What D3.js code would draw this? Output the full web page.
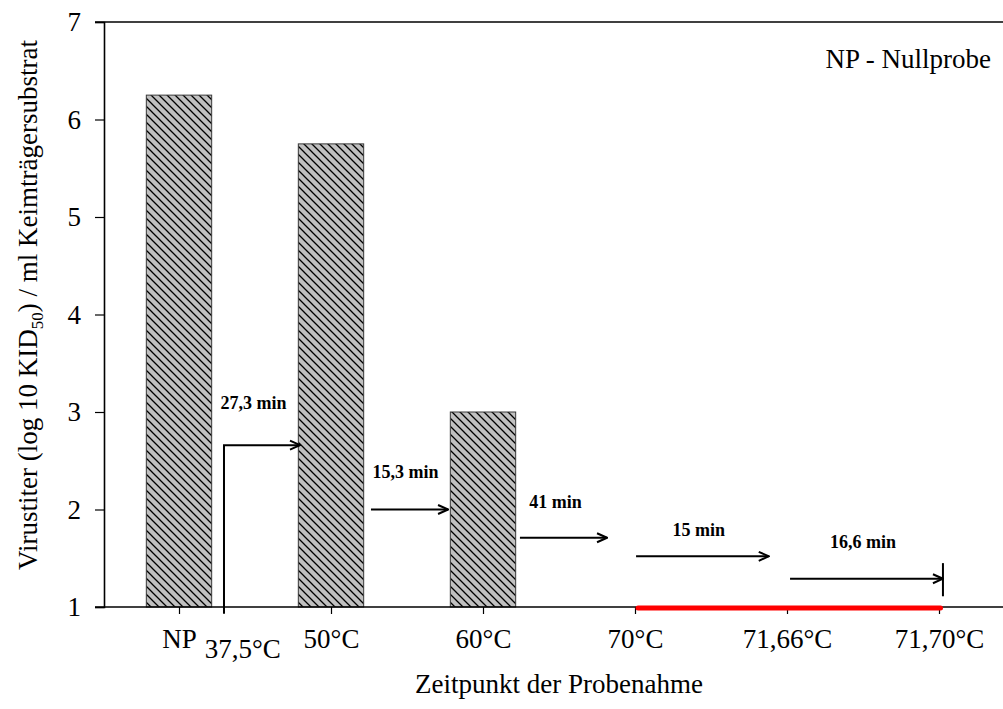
<!DOCTYPE html>
<html>
<head>
<meta charset="utf-8">
<script src="https://cdn.jsdelivr.net/npm/d3@7"></script>
<style>
  body { margin: 0; background: #fff; }
  svg { display: block; font-family: "Liberation Serif", "Times New Roman", serif; }
</style>
</head>
<body>
<svg id="chart" width="1003" height="709"></svg>
<script>
// Sampling points (x axis categories)
const categories = ["NP", "50°C", "60°C", "70°C", "71,66°C", "71,70°C"];
// Virus titre per sampling point (log10 KID50 / ml); no bar where nothing was detected
const titre = [6.25, 5.75, 3.0, null, null, null];
const yTicks = [1, 2, 3, 4, 5, 6, 7];

// Heating-time arrows between sampling points (x in category units, y in titre units)
const arrowLabels = ["27,3 min", "15,3 min", "41 min", "15 min", "16,6 min"];
const arrowStart = [0.296, 1.263, 2.243, 3.007, 4.02];
const arrowEnd = [0.796, 1.77, 2.816, 3.88, 5.026];
const arrowLevel = [2.66, 2.0, 1.71, 1.52, 1.29];
const labelX = [0.49, 1.49, 2.477, 3.42, 4.5];
const labelLevel = [3.03, 2.32, 2.015, 1.73, 1.605];
// first arrow rises from below the axis; last arrow ends on a stop bar
const arrowRiseFrom = [0.93, null, null, null, null];
const arrowStopBar = [null, null, null, null, [1.11, 1.45]];

// Extra start point label and the span below detection limit
const startLabel = "37,5°C";
const startLabelX = 0.42;
const belowLimitSpan = [3.02, 5.01];
const noteText = "NP - Nullprobe";

const svg = d3.select("#chart");
const FS = 27;

const x = d3.scaleLinear().domain([0, 5]).range([179, 939]);
const y = d3.scaleLinear().domain([1, 7]).range([607, 22]);
const plotLeft = 104, plotRight = 1003;
const barW = (x(1) - x(0)) * 0.43;

// Hatched fill for bars
const defs = svg.append("defs");
const pat = defs.append("pattern")
  .attr("id", "hatch")
  .attr("patternUnits", "userSpaceOnUse")
  .attr("width", 8).attr("height", 8);
pat.append("rect").attr("width", 8).attr("height", 8).attr("fill", "#c0c0c0");
pat.append("path")
  .attr("d", "M0,0 L8,8 M-4,4 L4,12 M4,-4 L12,4")
  .attr("stroke", "#000").attr("stroke-width", 1.3);

const arrowMarker = defs.append("marker")
  .attr("id", "arrowhead")
  .attr("viewBox", "0 0 12 12")
  .attr("refX", 11).attr("refY", 6)
  .attr("markerWidth", 12).attr("markerHeight", 12)
  .attr("markerUnits", "userSpaceOnUse")
  .attr("orient", "auto");
arrowMarker.append("path")
  .attr("d", "M1,1.5 L11,6 L1,10.5")
  .attr("fill", "none").attr("stroke", "#000").attr("stroke-width", 2);

// Bars
svg.append("g").selectAll("rect")
  .data(titre.map((v, i) => ({ v, i })).filter(d => d.v != null))
  .join("rect")
  .attr("x", d => x(d.i) - barW / 2)
  .attr("width", barW)
  .attr("y", d => y(d.v))
  .attr("height", d => y(1) - y(d.v))
  .attr("fill", "url(#hatch)")
  .attr("stroke", "#3a3a3a")
  .attr("stroke-width", 1);

// Frame: top line and bottom base line
svg.append("line")
  .attr("x1", plotLeft - 9).attr("x2", plotRight)
  .attr("y1", y(7)).attr("y2", y(7))
  .attr("stroke", "#000").attr("stroke-width", 1.6);
svg.append("line")
  .attr("x1", plotLeft - 9).attr("x2", plotRight)
  .attr("y1", y(1)).attr("y2", y(1))
  .attr("stroke", "#000").attr("stroke-width", 1.6);

// Y axis
const yAxis = svg.append("g")
  .attr("transform", `translate(${plotLeft},0)`)
  .call(d3.axisLeft(y).tickValues(yTicks).tickSize(9).tickPadding(14).tickFormat(d3.format("d")));
yAxis.select(".domain").attr("stroke-width", 1.6);
yAxis.selectAll(".tick line").attr("stroke-width", 1.2);
yAxis.selectAll("text").attr("font-size", FS).attr("font-family", "Liberation Serif").attr("fill", "#000");

// X axis
const xAxis = svg.append("g")
  .attr("transform", `translate(0,${y(1)})`)
  .call(d3.axisBottom(x).tickValues(d3.range(categories.length)).tickSize(7).tickPadding(15)
    .tickFormat(i => categories[i]));
xAxis.select(".domain").remove();
xAxis.selectAll(".tick line").attr("stroke-width", 1.2);
xAxis.selectAll("text").attr("font-size", FS).attr("font-family", "Liberation Serif").attr("fill", "#000");

// Span below detection limit
svg.append("line")
  .attr("x1", x(belowLimitSpan[0])).attr("x2", x(belowLimitSpan[1]))
  .attr("y1", y(1) + 1).attr("y2", y(1) + 1)
  .attr("stroke", "#ff0000").attr("stroke-width", 5)
  .attr("stroke-linecap", "round");

// Arrows
const arrows = arrowLabels.map((label, i) => ({
  label, x0: arrowStart[i], x1: arrowEnd[i], lvl: arrowLevel[i],
  lx: labelX[i], ly: labelLevel[i], rise: arrowRiseFrom[i], stop: arrowStopBar[i]
}));
const ag = svg.append("g");
arrows.forEach(a => {
  const pts = [];
  if (a.rise != null) pts.push([x(a.x0), y(a.rise)]);
  pts.push([x(a.x0), y(a.lvl)], [x(a.x1), y(a.lvl)]);
  ag.append("path")
    .attr("d", d3.line()(pts))
    .attr("fill", "none").attr("stroke", "#000").attr("stroke-width", 2)
    .attr("marker-end", "url(#arrowhead)");
  if (a.stop) {
    ag.append("line")
      .attr("x1", x(a.x1)).attr("x2", x(a.x1))
      .attr("y1", y(a.stop[0])).attr("y2", y(a.stop[1]))
      .attr("stroke", "#000").attr("stroke-width", 2);
  }
  ag.append("text")
    .attr("x", x(a.lx)).attr("y", y(a.ly))
    .attr("text-anchor", "middle")
    .attr("font-size", 18).attr("font-weight", "bold")
    .text(a.label);
});

// Start temperature label under the first arrow
svg.append("text")
  .attr("x", x(startLabelX)).attr("y", 658)
  .attr("text-anchor", "middle").attr("font-size", FS)
  .text(startLabel);

// Note
svg.append("text")
  .attr("x", 991).attr("y", 68)
  .attr("text-anchor", "end").attr("font-size", FS)
  .text(noteText);

// Axis titles
svg.append("text")
  .attr("x", 559).attr("y", 693)
  .attr("text-anchor", "middle").attr("font-size", FS)
  .text("Zeitpunkt der Probenahme");

const yt = svg.append("text")
  .attr("transform", "translate(37,305) rotate(-90)")
  .attr("text-anchor", "middle").attr("font-size", FS);
yt.append("tspan").text("Virustiter (log 10 KID");
yt.append("tspan").attr("font-size", 17).attr("dy", 6).text("50");
yt.append("tspan").attr("dy", -6).text(") / ml Keimträgersubstrat");
</script>
</body>
</html>
